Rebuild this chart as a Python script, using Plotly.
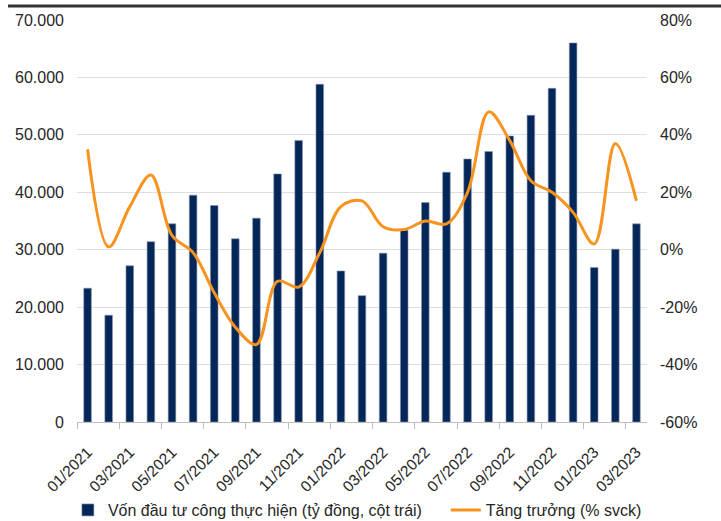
import plotly.graph_objects as go

# Monthly public investment disbursement (billion VND) and YoY growth (%)
months = [
    "01/2021", "02/2021", "03/2021", "04/2021", "05/2021", "06/2021",
    "07/2021", "08/2021", "09/2021", "10/2021", "11/2021", "12/2021",
    "01/2022", "02/2022", "03/2022", "04/2022", "05/2022", "06/2022",
    "07/2022", "08/2022", "09/2022", "10/2022", "11/2022", "12/2022",
    "01/2023", "02/2023", "03/2023",
]
disbursed = [
    23300, 18600, 27200, 31400, 34500, 39500,
    37700, 31900, 35500, 43200, 49000, 58800,
    26300, 22000, 29400, 33400, 38200, 43500,
    45800, 47100, 49800, 53400, 58100, 66000,
    26900, 30100, 34500,
]
growth = [
    35, 1, 15, 26, 5, -1,
    -15, -27, -33, -11, -13, -1,
    15, 17, 8, 7, 10, 9,
    20, 48, 38, 24, 20, 13,
    2, 37, 17,
]

right_ticks = [-60, -40, -20, 0, 20, 40, 60, 80]
right_labels = ["-60%", "-40%", "-20%", "0%", "20%", "40%", "60%", "80%"]

font_family = "Liberation Sans, Arial, sans-serif"
text_color = "#262626"

fig = go.Figure()
fig.add_trace(go.Bar(
    x=months, y=disbursed,
    name="Vốn đầu tư công thực hiện (tỷ đồng, cột trái)",
    marker=dict(color="#04275a", line=dict(color="#8a94a6", width=0.6)),
    width=0.36,
    yaxis="y",
    legend="legend",
))
fig.add_trace(go.Scatter(
    x=months, y=growth,
    name="Tăng trưởng (% svck)",
    mode="lines",
    line=dict(color="#f7931e", width=3, shape="spline", smoothing=1.0),
    yaxis="y2",
    legend="legend2",
))

legend_style = dict(
    orientation="h",
    xanchor="left",
    y=-0.219, yanchor="middle",
    font=dict(size=16, color=text_color),
    itemwidth=30,
    bgcolor="rgba(0,0,0,0)",
)

fig.update_layout(
    width=721, height=521,
    margin=dict(l=77, r=74, t=20, b=99, autoexpand=False),
    paper_bgcolor="white", plot_bgcolor="white",
    separators=",.",
    font=dict(family=font_family, color=text_color, size=16),
    showlegend=True,
    legend=dict(x=-0.016, **legend_style),
    legend2=dict(x=0.647, **legend_style),
    xaxis=dict(
        type="category",
        tickmode="linear", tick0=0, dtick=2,
        tickson="boundaries",
        tickangle=-45,
        ticks="outside", ticklen=6, tickcolor="#bfbfbf",
        showline=True, linecolor="#bfbfbf", linewidth=1,
        showgrid=False,
        ticklabelstandoff=14,
        tickfont=dict(size=15.5, color=text_color),
        range=[-0.5, 26.5],
    ),
    yaxis=dict(
        range=[0, 70000], dtick=10000, tickformat=",d",
        showgrid=True, gridcolor="#dedede", gridwidth=1,
        zeroline=False, showline=False,
        ticks="", ticklabelstandoff=12,
        tickfont=dict(size=16, color=text_color),
    ),
    yaxis2=dict(
        overlaying="y", side="right",
        range=[-60, 80],
        tickmode="array", tickvals=right_ticks, ticktext=right_labels,
        showgrid=False, zeroline=False, showline=False,
        ticks="", ticklabelstandoff=12,
        tickfont=dict(size=16, color=text_color),
    ),
    shapes=[dict(
        type="line", xref="paper", yref="paper",
        x0=-0.121, x1=1.13, y0=1.035, y1=1.035,
        line=dict(color="#333333", width=3),
    )],
)

fig.write_html("out.html")
